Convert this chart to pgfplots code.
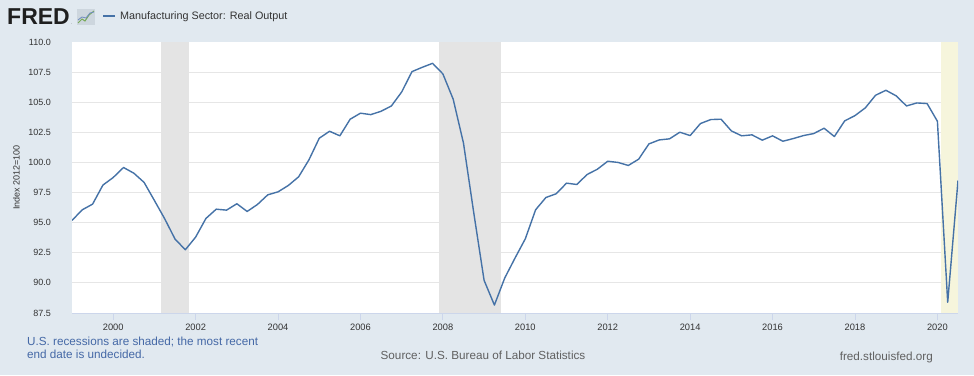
\documentclass[border=0pt]{standalone}
\usepackage{pgfplots}
\usepackage{pgfplotstable}
\pgfplotsset{compat=1.18}
\usepackage{fontspec}
\setmainfont{Liberation Sans}
\definecolor{bgcol}{RGB}{225,233,240}
\definecolor{linecol}{RGB}{69,114,167}
\definecolor{recgray}{RGB}{228,228,228}
\definecolor{recyellow}{RGB}{246,245,220}
\definecolor{gridcol}{RGB}{230,230,230}
\definecolor{axcol}{RGB}{204,214,235}
\definecolor{txtcol}{RGB}{51,51,51}
\definecolor{notecol}{RGB}{68,104,166}
\definecolor{srccol}{RGB}{96,96,96}
\definecolor{iconbg}{RGB}{205,214,222}
\definecolor{icongreen}{RGB}{120,170,90}
\definecolor{iconblue}{RGB}{110,140,190}
\pgfplotstableread{
t v
1999.00 95.19
1999.25 96.07
1999.50 96.54
1999.75 98.12
2000.00 98.75
2000.25 99.58
2000.50 99.11
2000.75 98.34
2001.00 96.84
2001.25 95.32
2001.50 93.64
2001.75 92.75
2002.00 93.80
2002.25 95.35
2002.50 96.12
2002.75 96.04
2003.00 96.57
2003.25 95.93
2003.50 96.51
2003.75 97.31
2004.00 97.56
2004.25 98.09
2004.50 98.81
2004.75 100.22
2005.00 102.01
2005.25 102.59
2005.50 102.21
2005.75 103.59
2006.00 104.09
2006.25 103.97
2006.50 104.25
2006.75 104.69
2007.00 105.85
2007.25 107.54
2007.50 107.90
2007.75 108.23
2008.00 107.35
2008.25 105.25
2008.50 101.60
2008.75 95.80
2009.00 90.21
2009.25 88.16
2009.50 90.40
2009.75 92.06
2010.00 93.66
2010.25 96.07
2010.50 97.09
2010.75 97.40
2011.00 98.28
2011.25 98.17
2011.50 99.00
2011.75 99.44
2012.00 100.10
2012.25 100.00
2012.50 99.75
2012.75 100.27
2013.00 101.54
2013.25 101.87
2013.50 101.96
2013.75 102.51
2014.00 102.23
2014.25 103.23
2014.50 103.56
2014.75 103.59
2015.00 102.62
2015.25 102.21
2015.50 102.29
2015.75 101.85
2016.00 102.21
2016.25 101.76
2016.50 101.98
2016.75 102.23
2017.00 102.40
2017.25 102.84
2017.50 102.15
2017.75 103.45
2018.00 103.89
2018.25 104.53
2018.50 105.58
2018.75 105.99
2019.00 105.53
2019.25 104.69
2019.50 104.94
2019.75 104.89
2020.00 103.42
2020.25 88.39
2020.50 98.50
}\datatable
\begin{document}
\begin{tikzpicture}[x=1pt,y=1pt]
\useasboundingbox (0,0) rectangle (974,375);
\fill[bgcol] (0,0) rectangle (974,375);
% header
\node[anchor=base west, inner sep=0pt, font=\fontsize{23}{23}\selectfont\bfseries, text=black!88] at (7,350) {FRED};
\node[anchor=base west, inner sep=0pt, font=\fontsize{4}{4}\selectfont, text=black!80] at (71,350) {.};
\fill[iconbg] (77,350) rectangle (95,366);
\draw[icongreen, line width=1pt] (78,352) -- (82,356) -- (85,354) -- (89,360) -- (94,364);
\draw[iconblue, line width=0.8pt] (78,355) -- (82,358) -- (86,357) -- (90,362) -- (94,363);
\draw[linecol, line width=1.5pt] (103,359) -- (115,359);
\node[anchor=base west, inner sep=0pt, font=\fontsize{10.8}{11}\selectfont, text=txtcol] at (120,355) {Manufacturing Sector: Real Output};
% y label
\node[rotate=90, inner sep=0pt, font=\fontsize{9}{9}\selectfont, text=txtcol] at (16.5,197.5) {Index 2012=100};
% footer
\node[anchor=base west, inner sep=0pt, font=\fontsize{11.7}{12}\selectfont, text=notecol] at (27,30) {U.S. recessions are shaded; the most recent};
\node[anchor=base west, inner sep=0pt, font=\fontsize{11.7}{12}\selectfont, text=notecol] at (27,17) {end date is undecided.};
\node[anchor=base, inner sep=0pt, font=\fontsize{11.7}{12}\selectfont, text=srccol] at (483,16) {Source: U.S. Bureau of Labor Statistics};
\node[anchor=base east, inner sep=0pt, font=\fontsize{11.7}{12}\selectfont, text=srccol] at (933,15) {fred.stlouisfed.org};
\begin{axis}[
  at={(72pt,62pt)}, anchor=south west,
  scale only axis, width=886pt, height=271pt,
  xmin=1999, xmax=2020.5, ymin=87.5, ymax=110,
  axis background/.style={fill=white},
  axis lines*=left,
  x axis line style={draw=axcol, line width=0.8pt},
  y axis line style={draw=none},
  ytick={87.5,90,92.5,95,97.5,100,102.5,105,107.5},
  extra y ticks={110},
  extra y tick style={grid=none},
  xtick={2000,2002,2004,2006,2008,2010,2012,2014,2016,2018,2020},
  ymajorgrids,
  grid style={draw=gridcol, line width=0.8pt},
  ytick style={draw=none},
  xtick style={draw=axcol, line width=0.8pt},
  tick align=outside,
  major tick length=7pt,
  /pgf/number format/assume math mode=true,
  yticklabel={\pgfmathprintnumber[fixed,fixed zerofill,precision=1]{\tick}},
  xticklabel={\pgfmathprintnumber[int detect,1000 sep={}]{\tick}},
  yticklabel style={anchor=east, inner sep=0pt, xshift=-14pt, font=\fontsize{9}{9}\selectfont, text=txtcol},
  xticklabel style={anchor=base, inner sep=0pt, yshift=-10pt, font=\fontsize{9.3}{9.3}\selectfont, text=txtcol},
  clip=true,
]
\addplot[fill=recgray, draw=none, forget plot] coordinates {(2001.167,87.5) (2001.167,110) (2001.833,110) (2001.833,87.5)} -- cycle;
\addplot[fill=recgray, draw=none, forget plot] coordinates {(2007.917,87.5) (2007.917,110) (2009.417,110) (2009.417,87.5)} -- cycle;
\addplot[fill=recyellow, draw=none, forget plot] coordinates {(2020.083,87.5) (2020.083,110) (2020.5,110) (2020.5,87.5)} -- cycle;
\addplot[linecol, line width=1.4pt, mark=none, line join=round] table[x=t, y=v] {\datatable};
\end{axis}
\end{tikzpicture}
\end{document}
